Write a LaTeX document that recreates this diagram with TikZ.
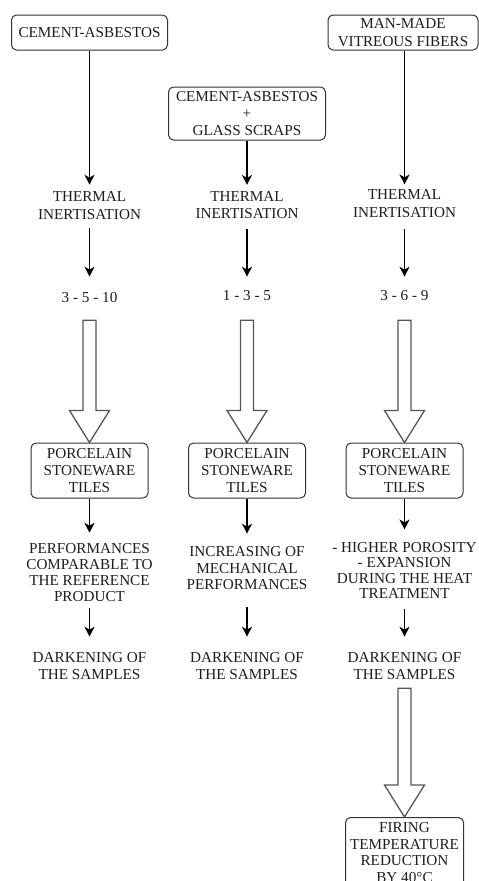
\documentclass[tikz,border=0pt]{standalone}
\usepackage{fontspec}
\setmainfont{Liberation Serif}
\usetikzlibrary{arrows.meta,calc}

\definecolor{ink}{HTML}{1E1E1E}
\definecolor{edge}{HTML}{333333}
\definecolor{hollow}{HTML}{555555}

\tikzset{
  every node/.style={font=\fontsize{15.2}{17}\selectfont, text=ink},
  txt/.style={align=center, inner sep=0pt},
  roundbox/.style={draw=edge, line width=1pt, rounded corners=5pt,
                   align=center, inner sep=0pt},
  arr/.style={draw=black, line width=1.4pt,
              -{Stealth[length=10pt,width=10pt,inset=3pt]}},
  bigarrow/.style={draw=hollow, line width=1.3pt, fill=white, line join=miter},
}

% hollow block arrow: #1 node anchor above, #2 anchor hit by the tip, #3 gap below #1
\newcommand\hollowarrow[3]{%
  \draw[bigarrow] let \p1=($(#1)+(0,#3)$), \p2=(#2) in
    (\x2-6.5pt,\y1) -- (\x2+6.5pt,\y1) -- (\x2+6.5pt,\y2+32pt)
    -- (\x2+20pt,\y2+32pt) -- (\x2,\y2) -- (\x2-20pt,\y2+32pt)
    -- (\x2-6.5pt,\y2+32pt) -- cycle;}

\begin{document}
\begin{tikzpicture}[x=1pt,y=-1pt]
\useasboundingbox (0,0) rectangle (479,881);
\clip (0,0) rectangle (479,881);

% starting materials
\node[roundbox, minimum width=156pt, minimum height=35pt] (a1) at (89.5,32.5) {CEMENT-ASBESTOS};
\node[roundbox, minimum width=157pt, minimum height=53pt] (a2) at (247,113.5)
  {CEMENT-ASBESTOS\\+\\GLASS SCRAPS};
\node[roundbox, minimum width=150pt, minimum height=35pt, font=\fontsize{15.2}{17.5}\selectfont] (a3) at (403,32.5)
  {MAN-MADE\\VITREOUS FIBERS};

% treatment
\node[txt, font=\fontsize{15.2}{18}\selectfont] (t1) at (89.5,206) {THERMAL\\INERTISATION};
\node[txt, font=\fontsize{15.2}{17.5}\selectfont] (t2) at (247,205) {THERMAL\\INERTISATION};
\node[txt, font=\fontsize{15.2}{17.5}\selectfont] (t3) at (404.5,203.5) {THERMAL\\INERTISATION};

% amounts
\node[txt] (n1) at (89.5,298) {3 - 5 - 10};
\node[txt] (n2) at (247,296) {1 - 3 - 5};
\node[txt] (n3) at (404.5,296) {3 - 6 - 9};

% products
\node[roundbox, minimum width=117pt, minimum height=55pt] (p1) at (89.5,470.5)
  {PORCELAIN\\STONEWARE\\TILES};
\node[roundbox, minimum width=117pt, minimum height=55pt] (p2) at (247,470.5)
  {PORCELAIN\\STONEWARE\\TILES};
\node[roundbox, minimum width=117pt, minimum height=55pt] (p3) at (404.5,470.5)
  {PORCELAIN\\STONEWARE\\TILES};

% results
\node[txt, font=\fontsize{15.2}{16.3}\selectfont] (r1) at (89.5,572.5)
  {PERFORMANCES\\COMPARABLE TO\\THE REFERENCE\\PRODUCT};
\node[txt, font=\fontsize{15.2}{16.5}\selectfont] (r2) at (247,568.5)
  {INCREASING OF\\MECHANICAL\\PERFORMANCES};
\node[txt, font=\fontsize{15.2}{15.2}\selectfont] (r3) at (404.5,570.5)
  {- HIGHER POROSITY\\- EXPANSION\\DURING THE HEAT\\TREATMENT};

\node[txt] (d1) at (89.5,666.5) {DARKENING OF\\THE SAMPLES};
\node[txt] (d2) at (247,666.5) {DARKENING OF\\THE SAMPLES};
\node[txt] (d3) at (404.5,666.5) {DARKENING OF\\THE SAMPLES};

\node[roundbox, anchor=north, minimum width=118pt, minimum height=70pt,
      font=\fontsize{15.2}{16.4}\selectfont] (f3) at (404.5,817)
  {FIRING\\TEMPERATURE\\REDUCTION\\BY 40°C};

% column 1
\draw[arr, shorten >=7pt] (a1.south) -- (t1.north);
\draw[arr, shorten <=8pt, shorten >=16pt] (t1.south) -- (n1.north);
\hollowarrow{n1.south}{p1.north}{17}
\draw[arr, shorten >=10pt] (p1.south) -- (r1.north);
\draw[arr, shorten <=6pt, shorten >=16pt] (r1.south) -- (d1.north);

% column 2
\draw[arr, shorten >=6pt] (a2.south) -- (t2.north);
\draw[arr, shorten <=10pt, shorten >=14pt] (t2.south) -- (n2.north);
\hollowarrow{n2.south}{p2.north}{19}
\draw[arr, shorten >=13pt] (p2.south) -- (r2.north);
\draw[arr, shorten <=17pt, shorten >=16pt] (r2.south) -- (d2.north);

% column 3
\draw[arr, shorten >=5pt] (a3.south -| t3.north) -- (t3.north);
\draw[arr, shorten <=11pt, shorten >=14pt] (t3.south) -- (n3.north);
\hollowarrow{n3.south}{p3.north}{19}
\draw[arr, shorten >=13pt] (p3.south) -- (r3.north);
\draw[arr, shorten <=10pt, shorten >=16pt] (r3.south) -- (d3.north);
\hollowarrow{d3.south}{f3.north}{8}

\end{tikzpicture}
\end{document}
